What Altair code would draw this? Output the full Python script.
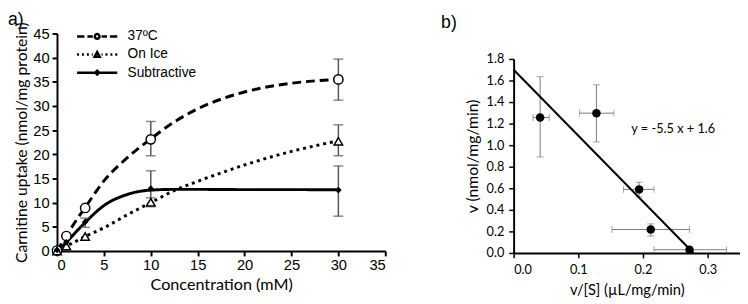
import altair as alt
import pandas as pd

# ---------------- Panel a data ----------------
series_names = ["37ºC", "On Ice", "Subtractive"]
conc = [0, 1, 3, 10, 30]
warm = [0.1, 3.1, 8.9, 23.1, 35.5]
ice = [0.0, 1.0, 3.0, 10.1, 22.7]
sub = [0.2, 1.8, 6.0, 12.9, 12.6]

curve_x = [0, 1, 2, 3, 5, 7.5, 10, 12.5, 15, 20, 25, 30]
warm_curve = [0, 3.2, 6.2, 9.0, 14.5, 19.3, 23.2, 26.7, 29.4, 32.9, 34.7, 35.5]
ice_curve = [0, 1.0, 2.0, 3.0, 4.8, 7.5, 10.0, 12.5, 14.4, 17.8, 20.6, 22.8]
sub_curve = [0, 1.8, 3.9, 5.9, 9.4, 11.7, 12.6, 12.75, 12.75, 12.7, 12.7, 12.65]

err_series = ["37ºC", "37ºC", "On Ice", "On Ice", "Subtractive", "Subtractive", "Subtractive"]
err_x = [10, 30, 10, 30, 3, 10, 30]
err_lo = [19.7, 31.2, 9.2, 19.7, 4.9, 9.2, 7.2]
err_hi = [26.8, 39.7, 11.0, 26.1, 6.8, 16.6, 17.6]

x_ticks_a = [0, 5, 10, 15, 20, 25, 30, 35]
y_ticks_a = [0, 5, 10, 15, 20, 25, 30, 35, 40, 45]

# ---------------- Panel b data ----------------
vs = [0.041, 0.128, 0.194, 0.212, 0.272]
v = [1.257, 1.297, 0.59, 0.218, 0.03]
v_lo = [0.89, 1.03, 0.52, 0.157, 0.03]
v_hi = [1.635, 1.56, 0.657, 0.27, 0.03]
vs_lo = [0.030, 0.102, 0.170, 0.152, 0.217]
vs_hi = [0.055, 0.155, 0.217, 0.272, 0.329]

fit_x = [0.0, 0.278]
fit_y = [1.70, 0.0]
eq_label = ["y = -5.5 x + 1.6"]
eq_x = [0.182]
eq_y = [1.145]

x_ticks_b = [0.0, 0.1, 0.2, 0.3]
y_ticks_b = [0.0, 0.2, 0.4, 0.6, 0.8, 1.0, 1.2, 1.4, 1.6, 1.8]

panel_labels = ["a)", "b)"]

# ---------------- frames ----------------
pts = pd.DataFrame({
    "series": [s for s in series_names for _ in conc],
    "x": conc * 3,
    "y": warm + ice + sub,
})
curves = pd.DataFrame({
    "series": [s for s in series_names for _ in curve_x],
    "x": curve_x * 3,
    "y": warm_curve + ice_curve + sub_curve,
})
errs = pd.DataFrame({"series": err_series, "x": err_x, "y": err_lo, "y2": err_hi})

bdf = pd.DataFrame({"x": vs, "y": v, "ylo": v_lo, "yhi": v_hi, "xlo": vs_lo, "xhi": vs_hi})
fitdf = pd.DataFrame({"x": fit_x, "y": fit_y})
eqdf = pd.DataFrame({"x": eq_x, "y": eq_y, "t": eq_label})

ARIAL = "Liberation Sans"
CAL = "Lato"

xsc_a = alt.Scale(domain=[0, 35], nice=False)
ysc_a = alt.Scale(domain=[0, 45], nice=False)
xa = alt.X("x:Q", scale=xsc_a,
           axis=alt.Axis(values=x_ticks_a, title="Concentration (mM)", grid=False,
                         labelFont=ARIAL, labelFontSize=15, labelColor="black",
                         titleFont=CAL, titleFontSize=16.5, titleFontWeight="normal",
                         titleColor="black", domainColor="black", domainWidth=2,
                         tickColor="black", tickWidth=2, tickSize=5, labelPadding=2,
                         titlePadding=4, labelOverlap=False))
ya = alt.Y("y:Q", scale=ysc_a,
           axis=alt.Axis(values=y_ticks_a, title="Carnitine uptake (nmol/mg protein)", grid=False,
                         labelFont=ARIAL, labelFontSize=15, labelColor="black",
                         titleFont=CAL, titleFontSize=16, titleFontWeight="normal",
                         titleColor="black", domainColor="black", domainWidth=2,
                         tickColor="black", tickWidth=2, tickSize=5, labelPadding=3,
                         titlePadding=3, labelOverlap=False))

def curve(name, dash):
    return alt.Chart(curves).transform_filter(alt.datum.series == name).mark_line(
        color="black", strokeWidth=3, strokeDash=dash, interpolate="monotone"
    ).encode(x=xa, y=ya)

lines = [curve("37ºC", [9, 5]), curve("On Ice", [3, 4]), curve("Subtractive", [1, 0])]

err_rule = alt.Chart(errs).mark_rule(color="#555555", strokeWidth=1.5).encode(x=xa, y=ya, y2="y2:Q")
cap_lo = alt.Chart(errs).mark_tick(color="#555555", thickness=1.5, size=10, orient="horizontal").encode(
    x=xa, y=ya)
cap_hi = alt.Chart(errs).transform_calculate(y="datum.y2").mark_tick(
    color="#555555", thickness=1.5, size=10, orient="horizontal").encode(x=xa, y=ya)

p_warm = alt.Chart(pts).transform_filter(alt.datum.series == "37ºC").mark_point(
    shape="circle", filled=True, fill="white", stroke="black", strokeWidth=1.5, size=90, opacity=1
).encode(x=xa, y=ya)
p_ice = alt.Chart(pts).transform_filter(alt.datum.series == "On Ice").mark_point(
    shape="triangle-up", filled=True, fill="white", stroke="black", strokeWidth=1.5, size=75, opacity=1
).encode(x=xa, y=ya)
p_sub = alt.Chart(pts).transform_filter(alt.datum.series == "Subtractive").mark_point(
    shape="diamond", filled=True, color="black", size=45, opacity=1
).encode(x=xa, y=ya)

# legend symbols: line + marker drawn as custom paths (units: 1 = 20.5 px)
def u(px):
    return round(px / 20.5, 4)

def seg(a, b):
    return f"M{u(a)},0L{u(b)},0"

r = u(2.4)
circle_path = f"M{r},0A{r},{r} 0 1,1 {-r},0A{r},{r} 0 1,1 {r},0Z"
dash_path = seg(-20.5, -13) + seg(-10, -4.5) + circle_path + seg(4.5, 10) + seg(13, 20.5)
tri = f"M0,{u(-2.6)}L{u(2.6)},{u(2.2)}L{u(-2.6)},{u(2.2)}Z"
dot_path = (seg(-20.5, -18.5) + seg(-15.5, -13.5) + seg(-10.5, -8.5) + seg(-5.5, -4.5)
            + tri + seg(4.5, 5.5) + seg(8.5, 10.5) + seg(13.5, 15.5) + seg(18.5, 20.5))
dia = f"M0,{u(-2)}L{u(2)},0L0,{u(2)}L{u(-2)},0Z"
solid_path = seg(-20.5, 20.5) + dia

legend_layer = alt.Chart(pts).transform_filter("datum.x < 0").mark_point(
    filled=False, color="black", strokeWidth=2.5, size=1681, opacity=1
).encode(
    x=xa, y=ya,
    shape=alt.Shape("series:N",
                    scale=alt.Scale(domain=series_names, range=[dash_path, dot_path, solid_path]),
                    legend=alt.Legend(orient="none", legendX=19, legendY=-5, title=None,
                                      labelFont=ARIAL, labelFontSize=14, labelColor="black",
                                      symbolSize=1681, symbolStrokeWidth=2.5,
                                      symbolStrokeColor="black", symbolOpacity=1,
                                      labelOffset=9, clipHeight=16, rowPadding=2.5, padding=0)),
)

label_a = alt.Chart(pd.DataFrame({"t": [panel_labels[0]]})).mark_text(
    align="left", baseline="top", font=ARIAL, fontSize=18, color="black"
).encode(x=alt.value(-50), y=alt.value(-23), text="t:N")

panel_a = alt.layer(*lines, err_rule, cap_lo, cap_hi, p_warm, p_ice, p_sub,
                    legend_layer, label_a).properties(width=335, height=222)

# ---------------- panel b ----------------
# panel b's plot sits lower than panel a's: its y range starts 26 px below the shared top
B_H = 224
B_TOP = 26
bx_scale = alt.Scale(domain=[0, 0.35], nice=False)
by_scale = alt.Scale(domain=[0, 1.8], nice=False, range=[B_H, B_TOP])
xb = alt.X("x:Q", scale=bx_scale,
           axis=alt.Axis(values=x_ticks_b, format=".1f", title="v/[S] (µL/mg/min)", grid=False,
                         labelFont=CAL, labelFontSize=13, labelColor="black",
                         titleFont=CAL, titleFontSize=15, titleFontWeight="normal",
                         titleColor="black", domainColor="black", domainWidth=2,
                         tickColor="black", tickWidth=1.5, tickSize=5, labelPadding=6,
                         titlePadding=6, labelOverlap=False))
yb = alt.Y("y:Q", scale=by_scale,
           axis=alt.Axis(values=y_ticks_b, format=".1f", title="v (nmol/mg/min)", grid=False,
                         labelFont=CAL, labelFontSize=13, labelColor="black",
                         titleFont=CAL, titleFontSize=16, titleFontWeight="normal",
                         titleColor="black", domainColor="black", domainWidth=2,
                         tickColor="black", tickWidth=1.5, tickSize=5, labelPadding=5,
                         titlePadding=6, labelOverlap=False))

ecol = "#7a7a7a"
bx_rule = alt.Chart(bdf).transform_calculate(x="datum.xlo", x2="datum.xhi").mark_rule(
    color=ecol, strokeWidth=1).encode(x=xb, x2="x2:Q", y=yb)
bx_cap1 = alt.Chart(bdf).transform_calculate(x="datum.xlo").mark_tick(
    color=ecol, thickness=1, size=7, orient="vertical").encode(x=xb, y=yb)
bx_cap2 = alt.Chart(bdf).transform_calculate(x="datum.xhi").mark_tick(
    color=ecol, thickness=1, size=7, orient="vertical").encode(x=xb, y=yb)
by_rule = alt.Chart(bdf).transform_calculate(y="datum.ylo", y2="datum.yhi").mark_rule(
    color=ecol, strokeWidth=1).encode(x=xb, y=yb, y2="y2:Q")
by_cap1 = alt.Chart(bdf).transform_calculate(y="datum.ylo").mark_tick(
    color=ecol, thickness=1, size=7, orient="horizontal").encode(x=xb, y=yb)
by_cap2 = alt.Chart(bdf).transform_calculate(y="datum.yhi").mark_tick(
    color=ecol, thickness=1, size=7, orient="horizontal").encode(x=xb, y=yb)
fit = alt.Chart(fitdf).mark_line(color="black", strokeWidth=2).encode(x=xb, y=yb)
bpts = alt.Chart(bdf).mark_circle(color="black", size=75, opacity=1).encode(x=xb, y=yb)
eq = alt.Chart(eqdf).mark_text(align="left", baseline="middle", font=CAL, fontSize=13,
                               color="black").encode(x=xb, y=yb, text="t:N")
label_b = alt.Chart(pd.DataFrame({"t": [panel_labels[1]]})).mark_text(
    align="left", baseline="top", font=ARIAL, fontSize=18, color="black"
).encode(x=alt.value(-74), y=alt.value(-20), text="t:N")

panel_b = alt.layer(bx_rule, bx_cap1, bx_cap2, by_rule, by_cap1, by_cap2, fit, bpts, eq,
                    label_b).properties(width=231, height=B_H)

chart = alt.hconcat(panel_a, panel_b, spacing=56).properties(
    padding={"left": 0, "top": 0, "right": 0, "bottom": 0}, background="white"
).configure_view(stroke=None).configure_axis(labelOverlap=False)

chart.save("out.html", embed_options={"renderer": "svg", "actions": False})
